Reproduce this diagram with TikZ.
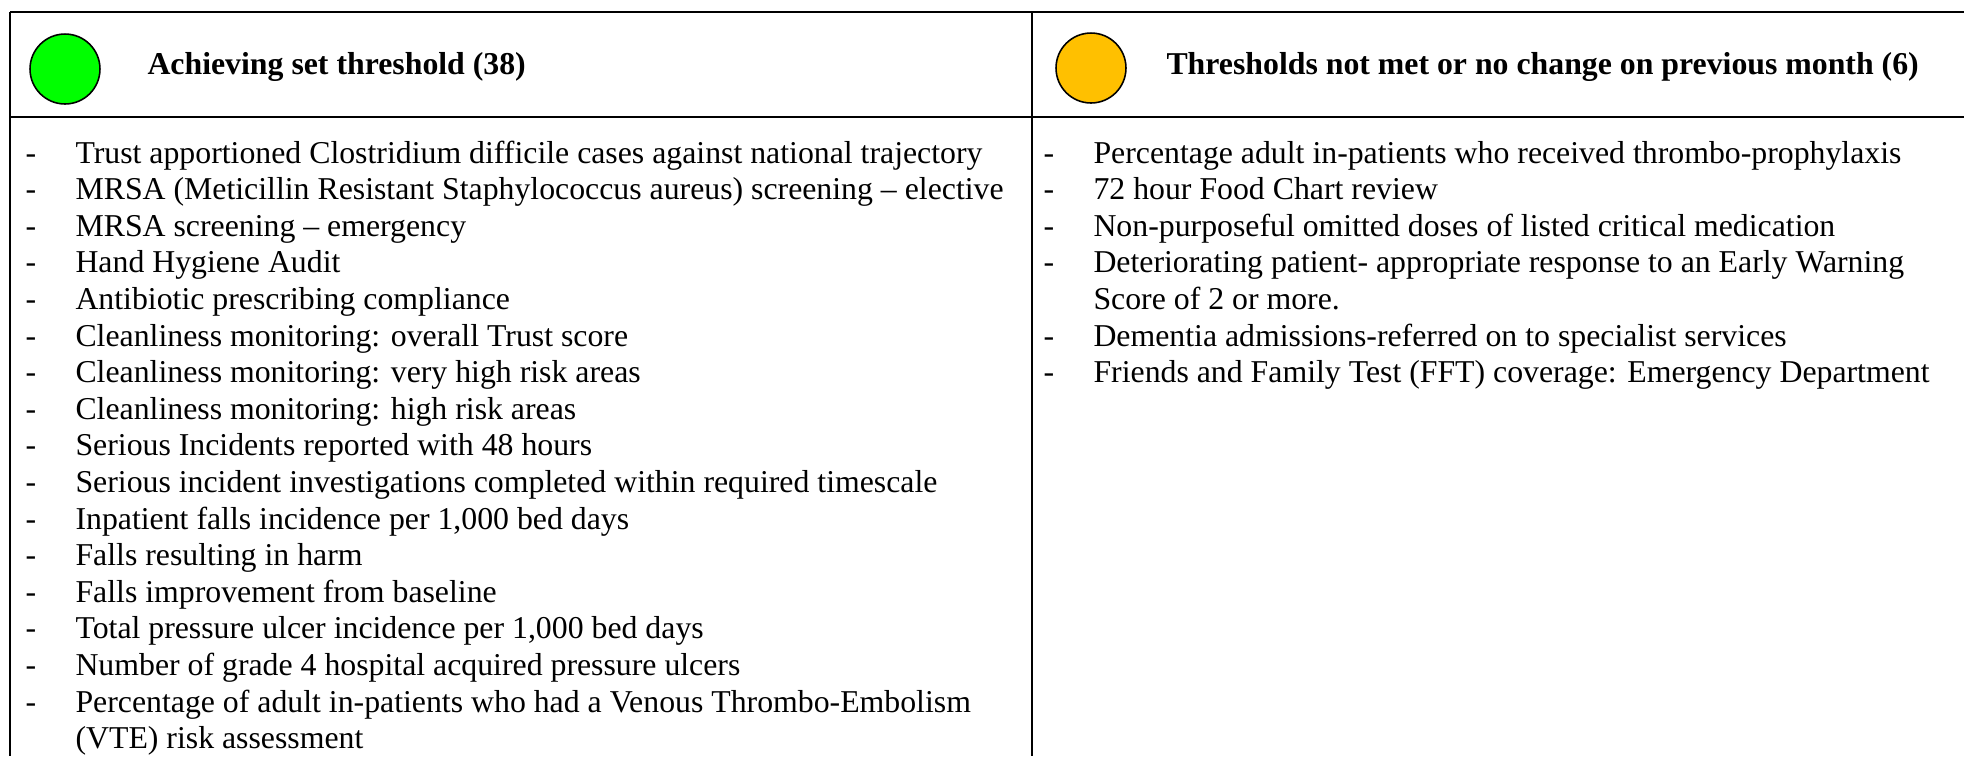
\documentclass[tikz,border=0pt]{standalone}
\usepackage{fontspec}
\setmainfont{Liberation Serif}
\usepackage{tikz}

\definecolor{metgreen}{RGB}{0,255,0}
\definecolor{metamber}{RGB}{255,192,0}
\newcommand{\tabfont}{\fontsize{12}{13.8}\selectfont}

\begin{document}
\begin{tikzpicture}[x=0.3774pt, y=-0.3774pt, font=\tabfont,
    rule/.style = {line width=1pt},
    colrule/.style = {line width=0.8pt},
    lamp/.style = {circle, draw, line width=0.6pt, minimum size=26.4pt, inner sep=0pt},
    head/.style = {anchor=base west, inner sep=0pt, font=\tabfont\bfseries},
    item/.style = {anchor=base west, align=left, inner sep=0pt},
    dashmark/.style = {anchor=base, inner sep=0pt}]
    \useasboundingbox (0,0) rectangle (1964,756);

    % table frame
    \coordinate (nw) at (10,12);
    \coordinate (ne) at (1964,12);
    \coordinate (hw) at (10,117);
    \coordinate (he) at (1964,117);
    \coordinate (sw) at (10,756);
    \coordinate (mt) at (1032,12);
    \coordinate (mb) at (1032,756);
    \draw[rule] (nw) -- (ne);
    \draw[rule] (hw) -- (he);
    \draw[colrule] (nw) -- (sw);
    \draw[colrule] (mt) -- (mb);

    % headers
    \node[lamp, fill=metgreen] (green) at (65,69) {};
    \node[head] (achieved) at (147,74) {Achieving set threshold (38)};
    \node[lamp, fill=metamber] (amber) at (1091,68) {};
    \node[head] (notmet) at (1166,74) {Thresholds not met or no change on previous month (6)};

    % left column: first row / row of last line / text
    \foreach \r/\b/\t [count=\i] in {
        0/0/{Trust apportioned Clostridium difficile cases against national trajectory},
        1/1/{MRSA (Meticillin Resistant Staphylococcus aureus) screening – elective},
        2/2/{MRSA screening – emergency},
        3/3/{Hand Hygiene Audit},
        4/4/{Antibiotic prescribing compliance},
        5/5/{Cleanliness monitoring: overall Trust score},
        6/6/{Cleanliness monitoring: very high risk areas},
        7/7/{Cleanliness monitoring: high risk areas},
        8/8/{Serious Incidents reported with 48 hours},
        9/9/{Serious incident investigations completed within required timescale},
        10/10/{Inpatient falls incidence per 1,000 bed days},
        11/11/{Falls resulting in harm},
        12/12/{Falls improvement from baseline},
        13/13/{Total pressure ulcer incidence per 1,000 bed days},
        14/14/{Number of grade 4 hospital acquired pressure ulcers},
        15/16/{Percentage of adult in-patients who had a Venous Thrombo-Embolism\\(VTE) risk assessment}} {
        \node[dashmark] (ld\i) at (31,{163+36.6*\r}) {-};
        \node[item] (l\i) at (75,{163+36.6*\b}) {\t};
    }

    % right column
    \foreach \r/\b/\t [count=\i] in {
        0/0/{Percentage adult in-patients who received thrombo-prophylaxis},
        1/1/{72 hour Food Chart review},
        2/2/{Non-purposeful omitted doses of listed critical medication},
        3/4/{Deteriorating patient- appropriate response to an Early Warning\\Score of 2 or more.},
        5/5/{Dementia admissions-referred on to specialist services},
        6/6/{Friends and Family Test (FFT) coverage: Emergency Department}} {
        \node[dashmark] (rd\i) at (1049,{163+36.6*\r}) {-};
        \node[item] (r\i) at (1093,{163+36.6*\b}) {\t};
    }
\end{tikzpicture}
\end{document}
